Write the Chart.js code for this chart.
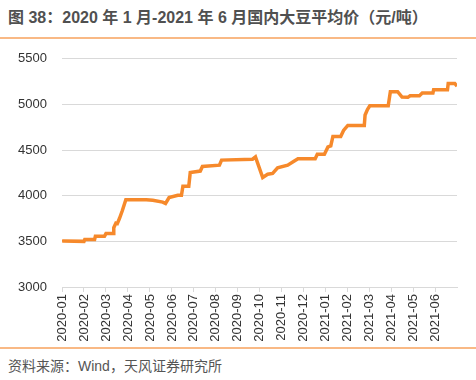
<!DOCTYPE html>
<html>
<head>
<meta charset="utf-8">
<script src="https://cdn.jsdelivr.net/npm/chart.js@4"></script>
<style>
  html, body { margin: 0; padding: 0; background: #fff; }
  body { width: 476px; height: 380px; position: relative; overflow: hidden;
         font-family: "Liberation Sans", "Noto Sans CJK SC", sans-serif; }
  #title { position: absolute; left: 8px; top: 8px; font-size: 16px; font-weight: bold;
           color: #505050; line-height: 20px; white-space: nowrap; }
  #topline { position: absolute; left: 0; top: 37px; width: 476px; height: 2px; background: #F9B985; }
  #chartbox { position: absolute; left: 0; top: 36px; width: 476px; height: 310px; }
  #botline { position: absolute; left: 0; top: 347px; width: 476px; height: 2px; background: #F9B985; }
  #source { position: absolute; left: 8px; top: 357px; font-size: 14px; color: #555;
            line-height: 18px; white-space: nowrap; }
</style>
</head>
<body>
<div id="title">图 38：2020 年 1 月-2021 年 6 月国内大豆平均价（元/吨）</div>
<div id="chartbox"><canvas id="c"></canvas></div>
<div id="topline"></div>
<div id="botline"></div>
<div id="source">资料来源：Wind，天风证券研究所</div>
<script>
const monthLabels = ['2020-01','2020-02','2020-03','2020-04','2020-05','2020-06','2020-07','2020-08','2020-09',
  '2020-10','2020-11','2020-12','2021-01','2021-02','2021-03','2021-04','2021-05','2021-06'];

const dates = ['2020-01-01','2020-01-03','2020-02-01','2020-02-02','2020-02-15','2020-02-16','2020-02-28','2020-03-01',
  '2020-03-11','2020-03-12','2020-03-15','2020-03-17','2020-03-20','2020-03-24','2020-03-29','2020-04-26',
  '2020-05-05','2020-05-19','2020-05-23','2020-05-28','2020-06-09','2020-06-14','2020-06-16','2020-06-24',
  '2020-06-26','2020-07-10','2020-07-13','2020-08-06','2020-08-09','2020-09-21','2020-09-25','2020-10-05',
  '2020-10-12','2020-10-19','2020-10-26','2020-11-09','2020-11-18','2020-11-23','2020-12-17','2020-12-20',
  '2020-12-30','2021-01-04','2021-01-08','2021-01-11','2021-01-22','2021-01-26','2021-02-01','2021-02-22',
  '2021-02-23','2021-02-26','2021-03-01','2021-03-27','2021-03-30','2021-04-09','2021-04-15','2021-04-23',
  '2021-04-26','2021-05-09','2021-05-13','2021-05-28','2021-05-29','2021-06-17','2021-06-18','2021-06-27',
  '2021-06-30'];

const prices = [3500,3505,3500,3520,3520,3555,3555,3585,
  3585,3650,3700,3695,3750,3835,3955,3955,
  3950,3930,3915,3980,4005,4005,4105,4105,
  4255,4270,4320,4335,4390,4400,4425,4200,
  4235,4245,4305,4335,4380,4405,4405,4455,
  4455,4535,4545,4650,4650,4715,4770,4770,
  4885,4945,4985,4985,5140,5140,5080,5078,
  5095,5095,5125,5125,5160,5160,5230,5230,
  5200];

const yTicks = [3000, 3500, 4000, 4500, 5000, 5500];

function monthIndex(s) {
  const [y, m, d] = s.split('-').map(Number);
  const dim = new Date(y, m, 0).getDate();
  return (y - 2020) * 12 + (m - 1) + (d - 1) / dim;
}

const points = dates.map((d, i) => ({ x: monthIndex(d), y: prices[i] }));
const xMax = points[points.length - 1].x;
const FONT = { family: '"Liberation Sans", Arial, sans-serif', size: 13 };

new Chart(document.getElementById('c'), {
  type: 'line',
  data: {
    datasets: [{
      data: points,
      borderColor: '#F6892B',
      borderWidth: 3.5,
      pointRadius: 0,
      tension: 0,
      fill: false
    }]
  },
  options: {
    responsive: true,
    maintainAspectRatio: false,
    animation: false,
    layout: { padding: { top: 12, right: 19, left: 0, bottom: 0 } },
    plugins: { legend: { display: false }, tooltip: { enabled: false } },
    scales: {
      x: {
        type: 'linear',
        min: 0,
        max: xMax,
        afterFit: (s) => { s.height = 59; },
        grid: { drawOnChartArea: false, drawTicks: true, tickLength: 5, color: '#d9d9d9' },
        border: { display: true, color: '#d9d9d9', width: 1 },
        ticks: {
          stepSize: 1,
          includeBounds: false,
          autoSkip: false,
          minRotation: 90,
          maxRotation: 90,
          padding: 2,
          color: '#333',
          font: FONT,
          callback: (v) => monthLabels[Math.round(v)] ?? ''
        }
      },
      y: {
        min: yTicks[0],
        max: yTicks[yTicks.length - 1],
        afterBuildTicks: (s) => { s.ticks = yTicks.map(v => ({ value: v })); },
        afterFit: (s) => { s.width = 62; },
        grid: { drawTicks: false, color: (c) => c.tick && c.tick.value === 3000 ? 'rgba(0,0,0,0)' : '#d9d9d9' },
        border: { display: false },
        ticks: { padding: 15, color: '#333', font: FONT, callback: (v) => String(v) }
      }
    }
  }
});
</script>
</body>
</html>
